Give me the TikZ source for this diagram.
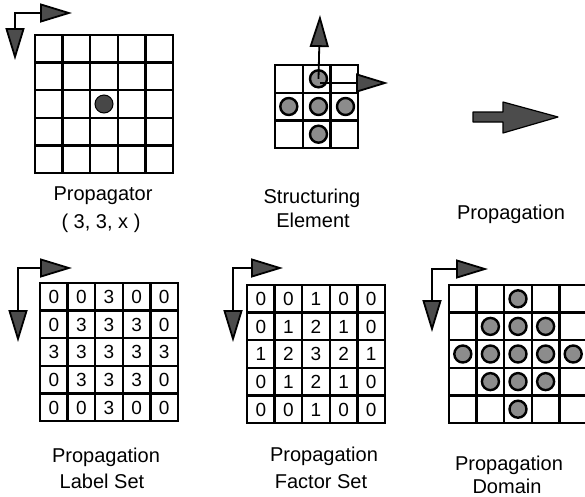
\documentclass[tikz,border=0pt]{standalone}
\usepackage{fontspec}
\setmainfont{Liberation Sans}
\usetikzlibrary{arrows.meta}
\definecolor{headgray}{gray}{0.3}
\definecolor{dotgray}{gray}{0.55}
\definecolor{darkdot}{gray}{0.28}
\newcommand\mygrid[4]{% x0, y0, n, s
  \foreach \i in {0,...,#3}{
    \draw[gridline] ({#1+\i*#4},#2) -- ({#1+\i*#4},{#2+#3*#4});
    \draw[gridline] (#1,{#2+\i*#4}) -- ({#1+#3*#4},{#2+\i*#4});
  }}
\begin{document}
\begin{tikzpicture}[x=1pt,y=-1pt,
  gridline/.style={line width=2.4pt, line cap=rect},
  axisline/.style={line width=1.8pt, line join=miter,
    {Triangle[length=32pt,width=19pt,fill=headgray]}-{Triangle[length=32pt,width=19pt,fill=headgray]}},
  uparrow/.style={line width=1.8pt, -{Triangle[length=32pt,width=19pt,fill=headgray]}},
  sedot/.style={circle, draw=black, line width=2.4pt, fill=dotgray, minimum size=17pt, inner sep=0pt},
  label/.style={anchor=base, font=\fontsize{20}{24}\selectfont, inner sep=0pt},
  digit/.style={anchor=base, font=\fontsize{19}{22}\selectfont, inner sep=0pt}]
\useasboundingbox (0,0) rectangle (585,496);
\begin{scope}
\clip (0,0) rectangle (585,496);

% ---------- Propagator ----------
\coordinate (a1c) at (15,13);
\coordinate (a1r) at (72,13);
\coordinate (a1d) at (15,60);
\draw[axisline] (a1r) -- (a1c) -- (a1d);
\mygrid{35}{35}{5}{27.6}
\node[circle, fill=darkdot, draw=black, line width=1pt, minimum size=18pt, inner sep=0pt] (pdot) at (104,104) {};
\node[label] (lprop) at (103,200) {Propagator};
\node[label] (lpos) at (101,228) {( 3, 3, x )};

% ---------- Structuring element ----------
\mygrid{275}{65}{3}{27.7}
\node[sedot] (s12) at (318.5,78.8) {};
\node[sedot] (s21) at (288.8,106.5) {};
\node[sedot] (s22) at (318.5,106.5) {};
\node[sedot] (s23) at (345.5,106.5) {};
\node[sedot] (s32) at (318.5,134.2) {};
\coordinate (seup) at (320,15);
\coordinate (seright) at (388,83);
\coordinate (sestart) at (320,83);
\draw[uparrow] (s12.center) -- (seup);
\draw[uparrow] (sestart) -- (seright);
\node[label] (lstr) at (312,203) {Structuring};
\node[label] (lele) at (313,227) {Element};

% ---------- Propagation ----------
\coordinate (pa) at (558,117);
\filldraw[fill=headgray, draw=black, line width=1.2pt, line join=round]
  (473,112) -- (503,112) -- (503,102) -- (pa) -- (503,133) -- (503,122) -- (473,122) -- cycle;
\node[label] (lpg) at (511,219) {Propagation};

% ---------- Propagation Label Set ----------
\coordinate (a4c) at (18,268);
\coordinate (a4r) at (72,268);
\coordinate (a4d) at (18,342);
\draw[axisline] (a4r) -- (a4c) -- (a4d);
\mygrid{40}{283}{5}{27.6}
\foreach \row [count=\r] in {{0,0,3,0,0},{0,3,3,3,0},{3,3,3,3,3},{0,3,3,3,0},{0,0,3,0,0}}{
  \foreach \v [count=\c] in \row{
    \node[digit] (ls-\r-\c) at ({40+(\c-0.5)*27.6},{283+(\r-0.5)*27.6+6.8}) {\v};
  }}
\node[label] (lls1) at (106,462) {Propagation};
\node[label] (lls2) at (102,488) {Label Set};

% ---------- Propagation Factor Set ----------
\coordinate (a5c) at (233,268);
\coordinate (a5r) at (283,268);
\coordinate (a5d) at (233,342);
\draw[axisline] (a5r) -- (a5c) -- (a5d);
\mygrid{247}{285}{5}{27.6}
\foreach \row [count=\r] in {{0,0,1,0,0},{0,1,2,1,0},{1,2,3,2,1},{0,1,2,1,0},{0,0,1,0,0}}{
  \foreach \v [count=\c] in \row{
    \node[digit] (fs-\r-\c) at ({247+(\c-0.5)*27.6},{285+(\r-0.5)*27.6+6.8}) {\v};
  }}
\node[label] (lfs1) at (324,461) {Propagation};
\node[label] (lfs2) at (321,488) {Factor Set};

% ---------- Propagation Domain ----------
\coordinate (a6c) at (432,269);
\coordinate (a6r) at (488,269);
\coordinate (a6d) at (432,332);
\draw[axisline] (a6r) -- (a6c) -- (a6d);
\mygrid{449}{285}{5}{27.6}
\foreach \r/\c in {1/3, 2/2,2/3,2/4, 3/1,3/2,3/3,3/4,3/5, 4/2,4/3,4/4, 5/3}{
  \node[sedot] (pd-\r-\c) at ({449+(\c-0.5)*27.6},{285+(\r-0.5)*27.6}) {};
}
\node[label] (lpd1) at (509,470) {Propagation};
\node[label] (lpd2) at (507,493) {Domain};
\end{scope}
\end{tikzpicture}
\end{document}
